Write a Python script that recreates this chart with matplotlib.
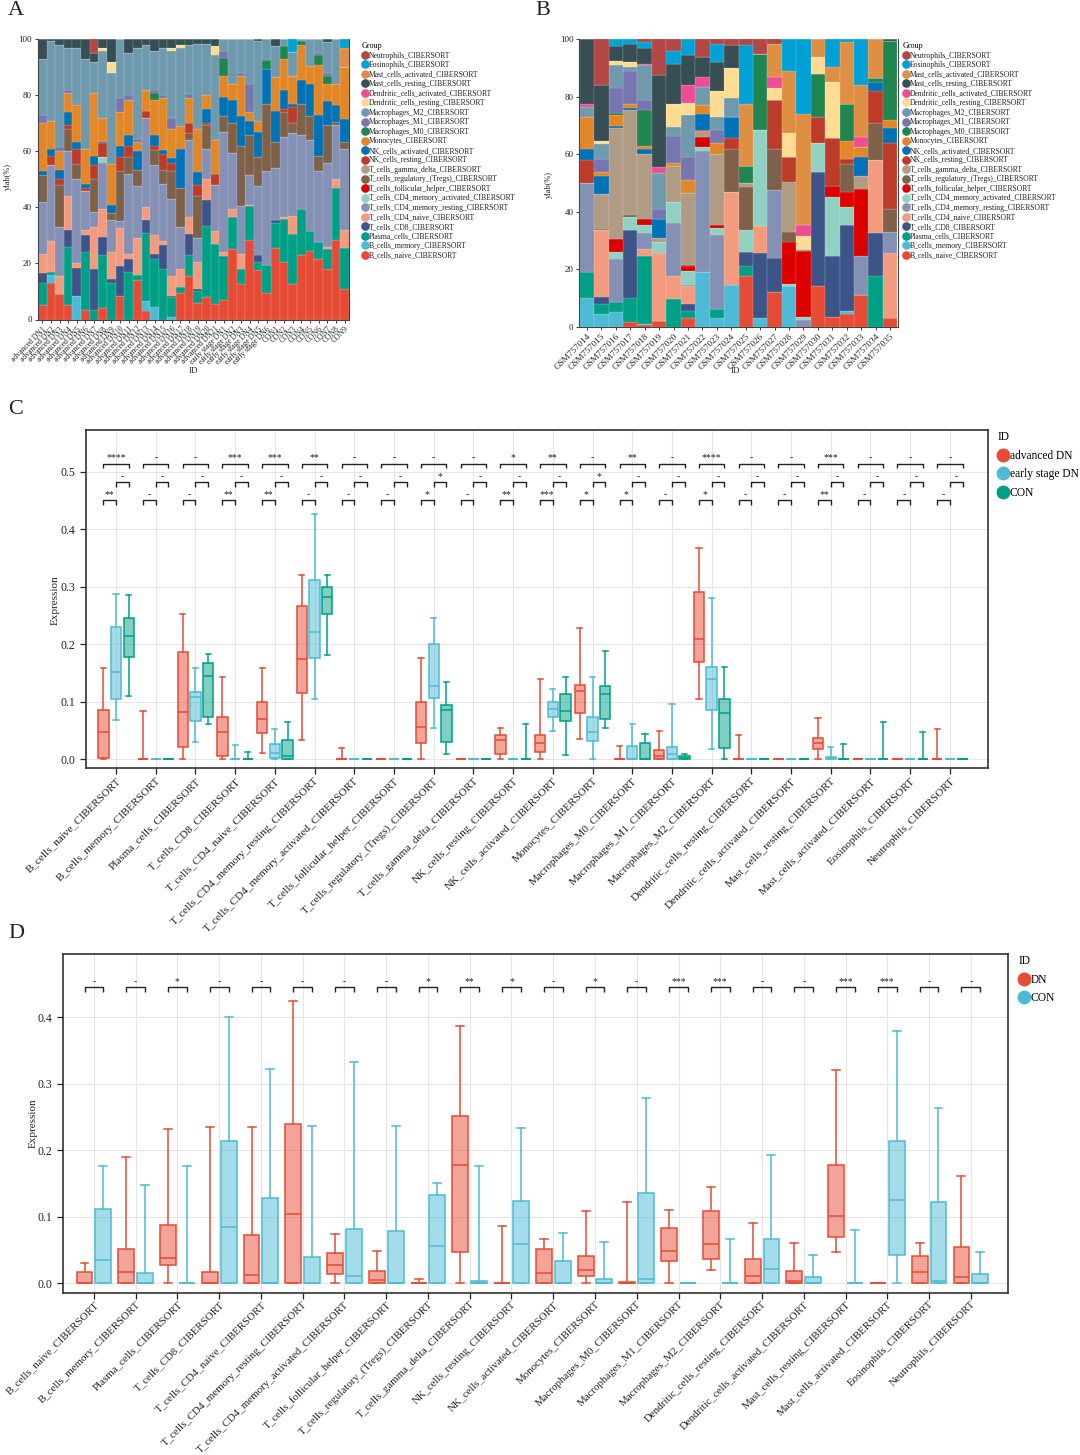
import matplotlib.pyplot as plt
from matplotlib.lines import Line2D
from matplotlib.colors import to_rgba
import numpy as np

plt.rcParams['font.family'] = ['Liberation Serif', 'DejaVu Serif']

# ---- cell types (stacking order, bottom to top) ----
cells = ['B_cells_naive', 'B_cells_memory', 'Plasma_cells', 'T_cells_CD8',
         'T_cells_CD4_naive', 'T_cells_CD4_memory_resting',
         'T_cells_CD4_memory_activated', 'T_cells_follicular_helper',
         'T_cells_regulatory_(Tregs)', 'T_cells_gamma_delta', 'NK_cells_resting',
         'NK_cells_activated', 'Monocytes', 'Macrophages_M0', 'Macrophages_M1',
         'Macrophages_M2', 'Dendritic_cells_resting', 'Dendritic_cells_activated',
         'Mast_cells_resting', 'Mast_cells_activated', 'Eosinophils', 'Neutrophils']
cell_colors = ['#E64B35', '#4DBBD5', '#00A087', '#3C5488', '#F39B7F', '#8491B4',
               '#91D1C2', '#DC0000', '#7E6148', '#B09C85', '#BC3C29', '#0072B5',
               '#E18727', '#20854E', '#7876B1', '#6F99AD', '#FFDC91', '#EE4C97',
               '#374E55', '#DF8F44', '#00A1D5', '#B24745']

# ---- panel A: GSE samples, percent per cell type ----
samples_a = ([f'advanced DN{i}' for i in range(1, 22)] +
             [f'early stage DN{i}' for i in range(1, 7)] +
             [f'CON{i}' for i in range(1, 10)])
a_bn = [5, 13, 9, 5, 0, 3.5, 0, 4, 0, 8.5, 0, 14, 3, 0, 0, 0, 9.5, 15.5, 6, 8, 5.5,
        7, 25, 12.5, 28.5, 17.5, 9.5, 25.5, 20.5, 12.5, 23, 24.5, 21.5, 18, 28.5, 11]
a_bm = [0, 3, 0, 0, 8.5, 0, 0, 0, 0, 0, 0, 0, 3.5, 4.5, 0, 1, 0, 0, 0, 0, 0,
        0, 0, 0, 0, 0, 0, 0, 0, 0, 0, 0, 0, 0, 0, 0]
a_pl = [8, 1, 0, 21, 0, 20.5, 3.5, 19, 13, 0, 17, 2, 24.5, 17, 18, 7, 2, 7.5, 4, 25.5, 21.5,
        15.5, 11.5, 5.5, 12, 3, 10, 9, 15.5, 18, 16.5, 7, 6, 7, 18.5, 14.5]
a_cd8 = [3.5, 0, 0, 6, 10, 6, 14.5, 6.5, 1.5, 10.5, 4.5, 0, 4.5, 2, 8.5, 0.5, 0, 7.5, 1, 9, 0,
         0, 0, 0, 0, 2.5, 0, 1, 0, 0, 0, 0, 0, 0, 0, 0]
a_cd4n = [7, 11, 6.5, 12, 1.5, 2, 15, 10, 9.5, 13.5, 2, 13, 4.5, 6.5, 1.5, 7, 6.5, 6, 9.5, 7.5, 4.5,
          1.5, 3, 5.5, 0.5, 0, 0, 0, 0.5, 6.5, 0, 0, 0, 1, 3, 6.5]
a_cd4r = [18.5, 27, 17.5, 16, 30, 14, 5.5, 16.5, 11.5, 2.5, 28.5, 18.5, 32, 25, 20.5, 27.5, 15,
          27.5, 8.5, 11, 16.5, 43, 20, 17, 10.5, 24.5, 33.5, 18.5, 28.5, 29.5, 26.5, 32.5,
          25.5, 30, 19.5, 29]
a_cd4a = [0, 0, 0, 0, 0, 0, 0, 2, 0, 0, 0, 0, 0, 0, 0, 0, 0, 0, 0, 0, 0,
          0, 0, 0, 0, 0, 0, 0, 0, 0, 0, 0, 0, 0, 0, 0]
a_tfh = [0] * 36
a_treg = [9.5, 0, 15, 8, 5.5, 0, 11.5, 0, 2.5, 18, 6, 6, 0, 5.5, 5, 10, 14, 2.5, 15, 8.5, 0,
          5.5, 10.5, 21.5, 14.5, 10.5, 24, 9.5, 9, 3.5, 11, 8.5, 5.5, 13.5, 1, 2.5]
a_gd = [0] * 36
a_nkr = [0, 3.5, 2, 1.5, 5.5, 1, 5, 5, 0, 5, 4, 0, 2.5, 1.5, 5.5, 3, 0, 3.5, 4, 0.5, 4,
         0, 0, 0, 0, 0, 0, 0, 1, 6, 0, 0, 0, 0, 0, 0]
a_nka = [1.5, 2.5, 3.5, 4.5, 2.5, 1.5, 3.5, 0.5, 3, 4, 4, 6.5, 0, 4, 1.5, 1.5, 14, 0, 4.5, 5, 0,
         7, 8.5, 10.5, 5, 9, 12.5, 11, 7, 1, 8.5, 11.5, 14.5, 8.5, 6, 8]
a_mono = [17, 10, 6.5, 7, 13, 12.5, 22.5, 8.5, 14.5, 12, 12.5, 3.5, 7.5, 12.5, 18.5, 10.5, 8, 9,
          15.5, 5, 12, 7.5, 5.5, 14.5, 3, 4, 0, 12, 11, 10, 12.5, 6.5, 18, 6, 7.5, 18.5]
a_m0 = [0, 0, 0, 0, 0, 0, 0, 0, 0, 0, 0, 0, 0, 2.5, 0, 0, 0, 0, 0, 0, 0,
        6.5, 0, 0, 0, 0, 3, 0, 4.5, 0, 1.5, 0, 3.5, 3, 0, 0]
a_m1 = [3, 0, 1.5, 1, 0.5, 0, 0, 0, 0, 5, 1.5, 1, 0, 1, 1, 4, 0, 1.5, 0, 0, 0,
        2.5, 0, 1, 10, 0, 0, 0, 0, 0, 0, 0, 0.5, 1, 0, 0]
a_m2 = [20, 28.5, 36.5, 15, 20, 32, 11, 24, 32.5, 21, 15, 32.5, 16, 14, 17, 24, 28, 17.5, 30.5,
        18.5, 30.5, 4, 16, 12, 16, 28.5, 7.5, 11, 2.5, 8.5, 0.5, 9.5, 5, 11, 16, 0]
a_dcr = [0, 0, 0, 0, 0, 0, 0, 1, 4, 0, 0, 0, 0, 0, 0, 1, 1, 0, 0, 0, 3,
         0, 0, 0, 0, 0, 0, 0, 0, 0, 0, 0, 0, 0, 0, 0]
a_dca = [0] * 36
a_mr = [7, 0.5, 2, 3, 3, 7, 3, 3, 8, 0, 5, 3, 2, 4, 3, 3, 2, 2, 1.5, 1.5, 2.5,
        0, 0, 0, 0, 0.5, 0, 2.5, 0, 0, 0, 0, 0, 1, 0, 0]
a_ma = [0] * 35 + [7]
a_eos = [0] * 29 + [4.5, 0, 0, 0, 0, 0, 3]
a_neu = [0, 0, 0, 0, 0, 0, 5] + [0] * 29

# ---- panel B: GSM757014..GSM757035 ----
samples_b = [f'GSM7570{i}' for i in range(14, 36)]
b_bn = [0, 0, 0, 1.5, 0.5, 2, 0, 3, 0, 0, 0, 17.5, 0, 12, 0, 0, 14, 3.5, 4.5, 11, 0, 3]
b_bm = [10, 4.5, 5, 0, 0.5, 0, 0, 0, 19, 3, 14.5, 0, 3, 0, 14, 0, 0, 0, 1, 0, 0, 0]
b_pl = [9, 3.5, 3.5, 8.5, 23.5, 0, 9.5, 2.5, 0, 3, 0, 3.5, 0, 0, 0, 0, 0, 0, 0, 0, 17.5, 0]
b_cd8 = [0, 2.5, 0, 23.5, 0, 0, 0, 2.5, 0, 0, 0, 5, 22.5, 12, 0, 0, 40, 21, 30, 0, 15, 0]
b_cd4n = [0, 23, 0, 0, 2.5, 23.5, 8, 6, 0, 0, 32.5, 0, 9.5, 0, 0, 0, 0, 0, 0, 0, 25.5, 22.5]
b_cd4r = [31, 0, 15, 0, 5.5, 0, 18.5, 0.5, 42, 26, 0, 0, 0, 23.5, 0, 2.5, 0, 0, 0, 13.5, 0, 7.5]
b_cd4a = [0, 0, 2.5, 4.5, 3, 4, 7.5, 5, 1.5, 2.5, 0, 7.5, 33.5, 0, 1, 1, 10, 20.5, 6, 0, 0, 0]
b_tfh = [0, 0, 4.5, 0, 2, 0, 0, 1.5, 3.5, 1, 0, 0, 0, 0, 14.5, 23, 0, 4, 5.5, 23.5, 0, 0]
b_treg = [0, 0.5, 0, 1, 0, 0, 0, 0.5, 0, 0, 15, 15, 0, 14.5, 3.5, 0, 0, 0, 9.5, 0, 13, 8]
b_gd = [0, 12, 38.5, 36.5, 22.5, 1.5, 12.5, 25, 2, 24.5, 0, 1.5, 0, 0, 17.5, 0.5, 0, 0, 0, 4.5, 0, 0]
b_nkr = [8, 0, 0, 0, 0, 0, 0, 0, 0.5, 0, 3.5, 0, 0, 17, 8.5, 0, 9, 16.5, 2, 0, 11, 23]
b_nka = [4, 6.5, 1, 0.5, 2, 6.5, 0, 0, 5.5, 0, 7.5, 0, 0, 0, 0, 0, 0, 0, 0, 6.5, 3, 5]
b_mono = [11, 1.5, 3.5, 1.5, 1, 0, 1, 4.5, 3, 4, 0, 0, 0, 0, 0, 0, 0, 0, 6, 3.5, 0, 3]
b_m0 = [0, 0, 1, 0, 12.5, 0, 0, 0, 0, 0, 0, 6, 26.5, 0, 0, 0, 15, 0, 13, 0, 1.5, 27.5]
b_m1 = [0, 4.5, 8.5, 11.5, 3.5, 3.5, 9.5, 8, 0, 4.5, 0, 0, 0, 0, 0, 0, 0, 0, 0, 0, 0, 0]
b_m2 = [3.5, 5, 8, 1.5, 12, 12.5, 3, 14.5, 6.5, 4.5, 6.5, 0, 0, 0, 0, 0, 0, 0, 0, 0, 0, 0]
b_dcr = [0, 1, 1.5, 1.5, 0, 0, 8, 4.5, 0, 9, 10.5, 0, 0, 4, 8.5, 4.5, 6, 19.5, 0, 0, 0, 0]
b_dca = [1, 0, 0, 0, 0.5, 2, 0, 6, 3.5, 0, 0, 0, 0, 4, 0, 4, 0, 0, 0, 3.5, 0, 0]
b_mr = [22.5, 19.5, 5, 6.5, 5.5, 32, 14, 10.5, 7, 10, 8, 0, 0, 0, 0, 0, 0, 0, 0, 0, 0, 0.5]
b_ma = [0, 0, 0, 0, 0, 0, 0, 0, 0, 0, 0, 21.5, 0, 11.5, 21.5, 38.5, 6, 5.5, 21.5, 18, 13.5, 0]
b_eos = [0, 0, 2.5, 1.5, 2, 0, 4.5, 5.5, 0, 6.5, 0, 20.5, 0, 0, 11, 26, 0, 9.5, 1, 16, 0, 0]
b_neu = [0, 16, 0, 0, 1, 12.5, 4, 0, 6, 1.5, 2, 2, 5, 1.5, 0, 0, 0, 0, 0, 0, 0, 0]

# ---- panel C: box stats [whislo, q1, median, q3, whishi] per cell type ----
c_adv = [[0, .002, .047, .086, .158], [0, 0, 0, 0, .084], [0, .021, .082, .187, .253],
         [0, .005, .048, .073, .143], [.011, .046, .070, .100, .158], [.033, .116, .175, .266, .320],
         [0, 0, 0, 0, .019], [0, 0, 0, 0, 0], [0, .029, .057, .100, .176], [0, 0, 0, 0, 0],
         [0, .009, .034, .043, .054], [0, .012, .028, .042, .140], [.035, .081, .118, .129, .228],
         [0, 0, 0, 0, .024], [0, .001, .005, .017, .050], [.105, .169, .209, .291, .368],
         [0, 0, 0, 0, .043], [0, 0, 0, 0, 0], [0, .018, .029, .037, .072], [0, 0, 0, 0, 0],
         [0, 0, 0, 0, .001], [0, 0, 0, 0, .053]]
c_early = [[.069, .105, .151, .230, .288], [0, 0, 0, 0, 0], [.030, .066, .108, .117, .158],
           [0, 0, 0, 0, .025], [0, .002, .011, .027, .053], [.105, .176, .221, .311, .426],
           [0, 0, 0, 0, 0], [0, 0, 0, 0, 0], [.054, .106, .127, .200, .245], [0, 0, 0, 0, 0],
           [0, 0, 0, 0, 0], [.049, .074, .087, .100, .123], [0, .032, .047, .074, .144],
           [0, 0, .001, .023, .062], [0, .001, .009, .022, .096], [.018, .085, .140, .161, .280],
           [0, 0, 0, 0, 0], [0, 0, 0, 0, 0], [0, 0, .002, .004, .021], [0, 0, 0, 0, 0],
           [0, 0, 0, 0, 0], [0, 0, 0, 0, 0]]
c_con = [[.110, .178, .215, .245, .285], [0, 0, 0, 0, 0], [.062, .073, .145, .168, .183],
         [0, 0, 0, 0, .013], [0, 0, .005, .033, .065], [.182, .252, .283, .299, .321],
         [0, 0, 0, 0, 0], [0, 0, 0, 0, 0], [.010, .031, .085, .094, .134], [0, 0, 0, 0, 0],
         [0, 0, 0, 0, .061], [.008, .067, .084, .114, .144], [.055, .070, .113, .128, .189],
         [0, 0, .001, .029, .044], [0, .001, .003, .005, .010], [0, .020, .080, .105, .161],
         [0, 0, 0, 0, 0], [0, 0, 0, 0, 0], [0, 0, 0, 0, .027], [0, 0, 0, 0, .065],
         [0, 0, 0, 0, .047], [0, 0, 0, 0, 0]]
c_sig_top = ['****', '-', '-', '***', '***', '**', '-', '-', '-', '-', '*', '**', '-', '**',
             '-', '****', '-', '-', '***', '-', '-', '-']
c_sig_mid = ['-', '-', '-', '-', '-', '-', '-', '-', '*', '-', '-', '-', '*', '-',
             '-', '-', '-', '-', '-', '-', '-', '-']
c_sig_bot = ['**', '-', '-', '**', '**', '-', '-', '-', '*', '-', '**', '***', '*', '*',
             '-', '*', '-', '-', '**', '-', '-', '-']

# ---- panel D: DN vs CON ----
d_dn = [[0, 0, .001, .017, .030], [0, 0, .017, .051, .190], [0, .028, .038, .087, .232],
        [0, 0, .001, .017, .235], [0, 0, .012, .073, .235], [0, .001, .105, .240, .425],
        [0, .014, .028, .045, .074], [0, 0, .005, .018, .048], [0, 0, 0, 0, .007],
        [0, .047, .178, .251, .387], [0, 0, 0, 0, .086], [0, .001, .015, .052, .066],
        [0, .011, .020, .041, .109], [0, 0, 0, .002, .122], [0, .033, .048, .083, .111],
        [.020, .036, .059, .109, .145], [0, 0, .011, .036, .091], [0, 0, .003, .019, .061],
        [.047, .069, .102, .178, .320], [0, 0, 0, 0, 0], [0, 0, .017, .041, .061],
        [0, .001, .010, .054, .162]]
d_con = [[0, 0, .035, .112, .176], [0, 0, 0, .016, .148], [0, 0, 0, 0, .176],
         [0, 0, .084, .214, .401], [0, 0, 0, .129, .322], [0, 0, 0, .039, .237],
         [0, 0, .011, .082, .333], [0, 0, .001, .079, .236], [0, 0, .056, .133, .151],
         [0, 0, 0, .003, .177], [0, 0, .059, .124, .233], [0, 0, 0, .033, .076],
         [0, 0, 0, .007, .062], [0, 0, .007, .136, .278], [0, 0, 0, 0, 0],
         [0, 0, 0, 0, .067], [0, 0, .021, .067, .193], [0, 0, 0, .009, .042],
         [0, 0, 0, 0, .080], [0, .043, .125, .214, .380], [0, 0, .004, .122, .263],
         [0, 0, 0, .014, .047]]
d_sig = ['-', '-', '*', '-', '-', '-', '-', '-', '*', '**', '*', '-', '*', '-', '***', '***',
         '-', '-', '***', '***', '-', '-']

RED, BLUE, TEAL = '#E64B35', '#4DBBD5', '#00A087'
INK = '#222222'

W, H = 1080, 1455
fig = plt.figure(figsize=(W / 100, H / 100), dpi=100)


def px_axes(l, t, r, b):
    return fig.add_axes([l / W, 1 - b / H, (r - l) / W, (b - t) / H])


def fig_text(x, y, s, **kw):
    fig.text(x / W, 1 - y / H, s, **kw)


def stacked(ax, table, xlabels, xfs):
    x = np.arange(len(xlabels))
    bottom = np.zeros(len(xlabels))
    for vals, col in zip(table, cell_colors):
        vals = np.asarray(vals, float)
        ax.bar(x, vals, bottom=bottom, width=1.0, color=col,
               edgecolor=(1, 1, 1, 0.35), linewidth=0.3, zorder=2)
        bottom += vals
    ax.set_xlim(-0.55, len(xlabels) - 0.45)
    ax.set_ylim(0, 100)
    ax.set_yticks([0, 20, 40, 60, 80, 100])
    ax.set_xticks(x)
    ax.set_xticklabels(xlabels, rotation=45, ha='right', rotation_mode='anchor',
                       fontsize=xfs, color=INK)
    ax.tick_params(axis='y', labelsize=6.5, length=2.5, width=0.6, pad=1.5, colors=INK)
    ax.tick_params(axis='x', length=2.5, width=0.6, pad=1.5, colors=INK)
    ax.grid(axis='y', color='#EBEBEB', lw=0.6, zorder=0)
    ax.spines['top'].set_visible(False)
    for s in ('left', 'bottom', 'right'):
        ax.spines[s].set_color('#444444')
        ax.spines[s].set_linewidth(0.8)


def group_legend(x, y):
    handles = [Line2D([], [], marker='o', ls='', color=c, markersize=5.2)
               for c in cell_colors[::-1]]
    labels = [c + '_CIBERSORT' for c in cells[::-1]]
    leg = fig.legend(handles, labels, loc='upper left',
                     bbox_to_anchor=(x / W, 1 - y / H), frameon=False, title='Group',
                     fontsize=5.5, title_fontsize=5.8, labelspacing=0.2,
                     handlelength=0.7, handletextpad=0.15, borderpad=0,
                     borderaxespad=0, alignment='left')
    for t in leg.get_texts():
        t.set_color(INK)


# ---------------- Panel A ----------------
ax_a = px_axes(37.5, 39.3, 349.3, 319.5)
table_a = [a_bn, a_bm, a_pl, a_cd8, a_cd4n, a_cd4r, a_cd4a, a_tfh, a_treg, a_gd, a_nkr,
           a_nka, a_mono, a_m0, a_m1, a_m2, a_dcr, a_dca, a_mr, a_ma, a_eos, a_neu]
stacked(ax_a, table_a, samples_a, 5.5)
fig_text(8, 177, 'ylab(%)', rotation=90, ha='center', va='center', fontsize=6, color=INK)
fig_text(193, 371, 'ID', ha='center', va='center', fontsize=6.5, color=INK)
group_legend(362, 42)
fig_text(8, 1, 'A', va='top', ha='left', fontsize=16, color=INK)

# ---------------- Panel B ----------------
ax_b = px_axes(579, 39.3, 898, 326.7)
table_b = [b_bn, b_bm, b_pl, b_cd8, b_cd4n, b_cd4r, b_cd4a, b_tfh, b_treg, b_gd, b_nkr,
           b_nka, b_mono, b_m0, b_m1, b_m2, b_dcr, b_dca, b_mr, b_ma, b_eos, b_neu]
stacked(ax_b, table_b, samples_b, 6.6)
fig_text(549, 185, 'ylab(%)', rotation=90, ha='center', va='center', fontsize=6, color=INK)
fig_text(735, 371, 'ID', ha='center', va='center', fontsize=6.5, color=INK)
group_legend(903, 42)
fig_text(535, 1, 'B', va='top', ha='left', fontsize=16, color=INK)


def draw_boxes(ax, rows, pos, width, color):
    st = [dict(whislo=r[0], q1=r[1], med=r[2], q3=r[3], whishi=r[4], fliers=[]) for r in rows]
    lw = 1.1
    ax.bxp(st, positions=pos, widths=width, capwidths=width * 0.5, patch_artist=True,
           showfliers=False, manage_ticks=False, zorder=3,
           boxprops=dict(facecolor=to_rgba(color, 0.5), edgecolor=color, linewidth=lw),
           medianprops=dict(color=color, linewidth=lw),
           whiskerprops=dict(color=color, linewidth=lw),
           capprops=dict(color=color, linewidth=lw))


def bracket(ax, x0, x1, y, tip, label, fs=7):
    ax.plot([x0, x0, x1, x1], [y - tip, y, y, y - tip], color=INK, lw=1.0,
            solid_capstyle='butt', zorder=4)
    ax.text((x0 + x1) / 2, y + tip * 0.25, label, ha='center', va='bottom',
            fontsize=fs, color=INK)


def style_box_axes(ax, yticks, xlim, ylim, xfs, xpad):
    ax.set_xlim(*xlim)
    ax.set_ylim(*ylim)
    ax.set_yticks(yticks)
    ax.set_yticklabels([f'{v:.1f}' for v in yticks])
    ax.set_xticks(np.arange(len(cells)))
    ax.set_xticklabels([c + '_CIBERSORT' for c in cells], rotation=45, ha='right',
                       rotation_mode='anchor', fontsize=xfs, color=INK)
    ax.tick_params(axis='y', labelsize=8.5, length=4, width=0.9, colors=INK)
    ax.tick_params(axis='x', length=4, width=0.9, colors=INK, pad=xpad)
    ax.grid(True, color='#E6E6E6', lw=0.8, zorder=0)
    ax.set_axisbelow(True)
    for s in ax.spines.values():
        s.set_color('#333333')
        s.set_linewidth(1.2)


def id_legend(x, y, labels, colors):
    handles = [Line2D([], [], marker='o', ls='', color=c, markersize=9) for c in colors]
    fig.legend(handles, labels, loc='upper left', bbox_to_anchor=(x / W, 1 - y / H),
               frameon=False, title='ID', fontsize=8.3, title_fontsize=8.3,
               labelspacing=0.58, handlelength=0.8, handletextpad=0.2, borderpad=0,
               borderaxespad=0, alignment='left')


# ---------------- Panel C ----------------
ax_c = px_axes(85.5, 430, 988, 768)
xc = np.arange(len(cells))
draw_boxes(ax_c, c_adv, xc - 0.32, 0.26, RED)
draw_boxes(ax_c, c_early, xc, 0.26, BLUE)
draw_boxes(ax_c, c_con, xc + 0.32, 0.26, TEAL)
for i in range(len(cells)):
    bracket(ax_c, i - 0.32, i + 0.32, 0.514, 0.008, c_sig_top[i])
    bracket(ax_c, i, i + 0.32, 0.482, 0.008, c_sig_mid[i])
    bracket(ax_c, i - 0.32, i, 0.450, 0.008, c_sig_bot[i])
style_box_axes(ax_c, [0.0, 0.1, 0.2, 0.3, 0.4, 0.5], (-0.77, 21.96), (-0.015, 0.5725), 8, 2)
fig_text(55, 600, 'Expression', rotation=90, ha='center', va='center', fontsize=8, color=INK)
id_legend(998, 431, ['advanced DN', 'early stage DN', 'CON'], [RED, BLUE, TEAL])
fig_text(8, 400, 'C', va='top', ha='left', fontsize=16, color=INK)

# ---------------- Panel D ----------------
ax_d = px_axes(63, 954, 1008, 1292.7)
xd = np.arange(len(cells))
draw_boxes(ax_d, d_dn, xd - 0.225, 0.38, RED)
draw_boxes(ax_d, d_con, xd + 0.225, 0.38, BLUE)
for i in range(len(cells)):
    bracket(ax_d, i - 0.225, i + 0.225, 0.445, 0.0075, d_sig[i])
style_box_axes(ax_d, [0.0, 0.1, 0.2, 0.3, 0.4], (-0.74, 21.89), (-0.014, 0.495), 7.8, 1)
fig_text(33, 1123, 'Expression', rotation=90, ha='center', va='center', fontsize=8, color=INK)
id_legend(1019, 955, ['DN', 'CON'], [RED, BLUE])
fig_text(8, 924, 'D', va='top', ha='left', fontsize=16, color=INK)

fig.savefig('out.png', dpi=100)
